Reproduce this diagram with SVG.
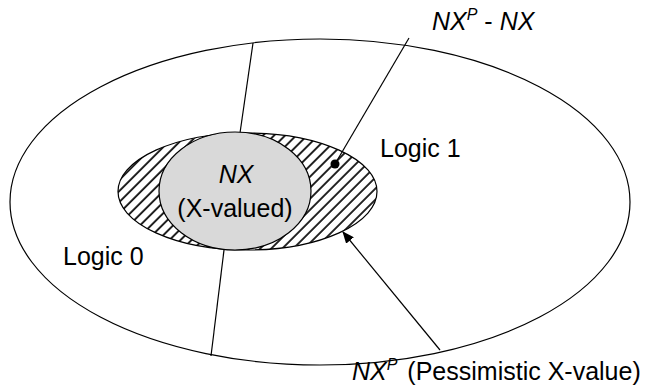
<svg xmlns="http://www.w3.org/2000/svg" width="649" height="389" viewBox="0 0 649 389">
<style>
.ln{fill:none;stroke:#000;stroke-width:1.2}
.t{font-family:"Liberation Sans",Arial,sans-serif;font-size:25px;fill:#000}
.i{font-style:italic}
</style>
<defs>
<pattern id="hatch" patternUnits="userSpaceOnUse" width="7.8" height="10" patternTransform="rotate(45)">
<rect width="7.8" height="10" fill="#fff"/>
<line x1="1" y1="-1" x2="1" y2="11" stroke="#000" stroke-width="1.7"/>
</pattern>
<marker id="ah" viewBox="0 0 12 10" refX="11" refY="5" markerWidth="12" markerHeight="10" markerUnits="userSpaceOnUse" orient="auto">
<path d="M0,0 L12,5 L0,10 Z" fill="#000"/>
</marker>
</defs>
<rect width="649" height="389" fill="#fff"/>
<g id="outer">
<ellipse class="ln" cx="320" cy="202" rx="310" ry="163"/>
</g>
<g id="connectors">
<line class="ln" x1="253" y1="43" x2="240" y2="133"/>
<line class="ln" x1="224" y1="250" x2="211" y2="356"/>
</g>
<g id="nxp">
<ellipse cx="247.5" cy="191.5" rx="129.5" ry="58.5" fill="url(#hatch)" stroke="#000" stroke-width="1.2"/>
</g>
<g id="nx">
<ellipse cx="235" cy="191" rx="76" ry="59" fill="#d9d9d9" stroke="#000" stroke-width="1.2"/>
<text class="t i" x="236" y="183" text-anchor="middle">NX</text>
<text class="t" x="235" y="217" text-anchor="middle">(X-valued)</text>
</g>
<g id="pointers">
<line class="ln" x1="409" y1="38" x2="335" y2="164"/>
<circle cx="335" cy="164" r="4.5" fill="#000"/>
<line class="ln" x1="440" y1="350" x2="343" y2="232" marker-end="url(#ah)"/>
</g>
<g id="labels">
<text class="t" x="380" y="157">Logic 1</text>
<text class="t" x="63" y="265">Logic 0</text>
<text class="t" x="432" y="30"><tspan class="i">NX</tspan><tspan class="i" font-size="16" dy="-10">P</tspan><tspan dy="10"> - </tspan><tspan class="i">NX</tspan></text>
<text class="t" x="352" y="380"><tspan class="i">NX</tspan><tspan class="i" font-size="16" dy="-10">P</tspan><tspan dy="10" dx="3"> (Pessimistic X-value)</tspan></text>
</g>
</svg>
